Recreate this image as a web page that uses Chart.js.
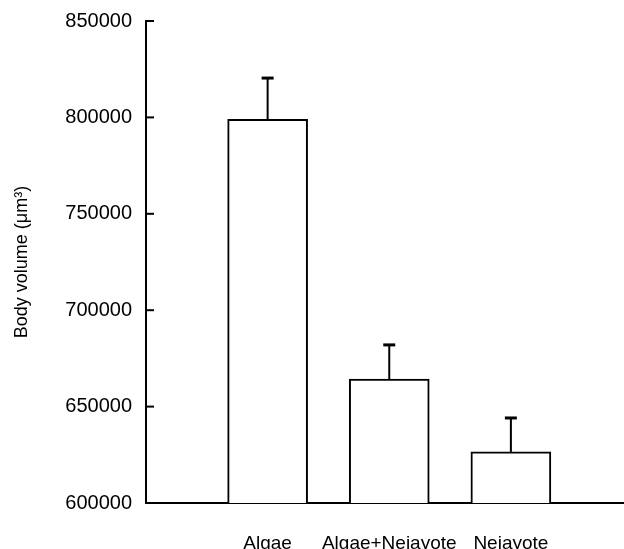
<!DOCTYPE html>
<html>
<head>
<meta charset="utf-8">
<script src="https://cdn.jsdelivr.net/npm/chart.js@4"></script>
<style>
  html, body { margin: 0; padding: 0; background: #fff; }
  #wrap { width: 624px; height: 549px; }
</style>
</head>
<body>
<div id="wrap"><canvas id="bodyChart" width="624" height="549"></canvas></div>
<script>
const categories = ['Algae', 'Algae+Nejayote', 'Nejayote'];
const volumes = [799000, 664300, 626500];
const errors = [21400, 17700, 17600];
const yTicks = [600000, 650000, 700000, 750000, 800000, 850000];

const FONT = "'Liberation Sans', Arial, Helvetica, sans-serif";

// short tick marks pointing into the plot, plus the upward-only error bars
const extras = {
  id: 'extras',
  afterDatasetsDraw(chart) {
    const ctx = chart.ctx;
    const y = chart.scales.y;
    const meta = chart.getDatasetMeta(0);
    ctx.save();
    ctx.strokeStyle = '#000';
    ctx.lineWidth = 2;
    meta.data.forEach((bar, i) => {
      const top = y.getPixelForValue(volumes[i] + errors[i]);
      ctx.beginPath();
      ctx.moveTo(bar.x, bar.y);
      ctx.lineTo(bar.x, top);
      ctx.stroke();
      ctx.lineWidth = 3;
      ctx.beginPath();
      ctx.moveTo(bar.x - 6, top);
      ctx.lineTo(bar.x + 6, top);
      ctx.stroke();
      ctx.lineWidth = 2;
    });
    yTicks.forEach(v => {
      const py = y.getPixelForValue(v);
      ctx.beginPath();
      ctx.moveTo(y.right, py);
      ctx.lineTo(y.right + 8, py);
      ctx.stroke();
    });
    ctx.restore();
  }
};

new Chart(document.getElementById('bodyChart'), {
  type: 'bar',
  data: {
    datasets: [{
      data: volumes.map((v, i) => ({ x: i + 1, y: v })),
      backgroundColor: '#fff',
      borderColor: '#000',
      borderWidth: 2,
      barThickness: 80
    }]
  },
  options: {
    responsive: false,
    animation: false,
    layout: { padding: { top: 21, right: 0, left: 0, bottom: 0 } },
    plugins: { legend: { display: false }, tooltip: { enabled: false } },
    scales: {
      x: {
        type: 'linear',
        min: 0,
        max: 3.93,
        offset: false,
        grid: { display: false, offset: false },
        border: { display: true, color: '#000', width: 2 },
        afterFit(scale) { scale.height = 46; },
        afterBuildTicks(scale) {
          scale.ticks = categories.map((c, i) => ({ value: i + 1 }));
        },
        ticks: {
          autoSkip: false,
          maxRotation: 0,
          padding: 21,
          color: '#000',
          font: { family: FONT, size: 19 },
          callback: v => categories[v - 1] || ''
        }
      },
      y: {
        min: 600000,
        max: 850000,
        grid: { display: false },
        border: { display: true, color: '#000', width: 2 },
        afterFit(scale) { scale.width = 146; },
        afterBuildTicks(scale) {
          scale.ticks = yTicks.map(v => ({ value: v }));
        },
        ticks: {
          padding: 6,
          color: '#000',
          font: { family: FONT, size: 20 },
          callback: v => String(v)
        },
        title: {
          display: true,
          text: 'Body volume (\u03bcm\u00b3)',
          color: '#000',
          font: { family: FONT, size: 18 },
          padding: { top: 11, bottom: 0 }
        }
      }
    }
  },
  plugins: [extras]
});
</script>
</body>
</html>
